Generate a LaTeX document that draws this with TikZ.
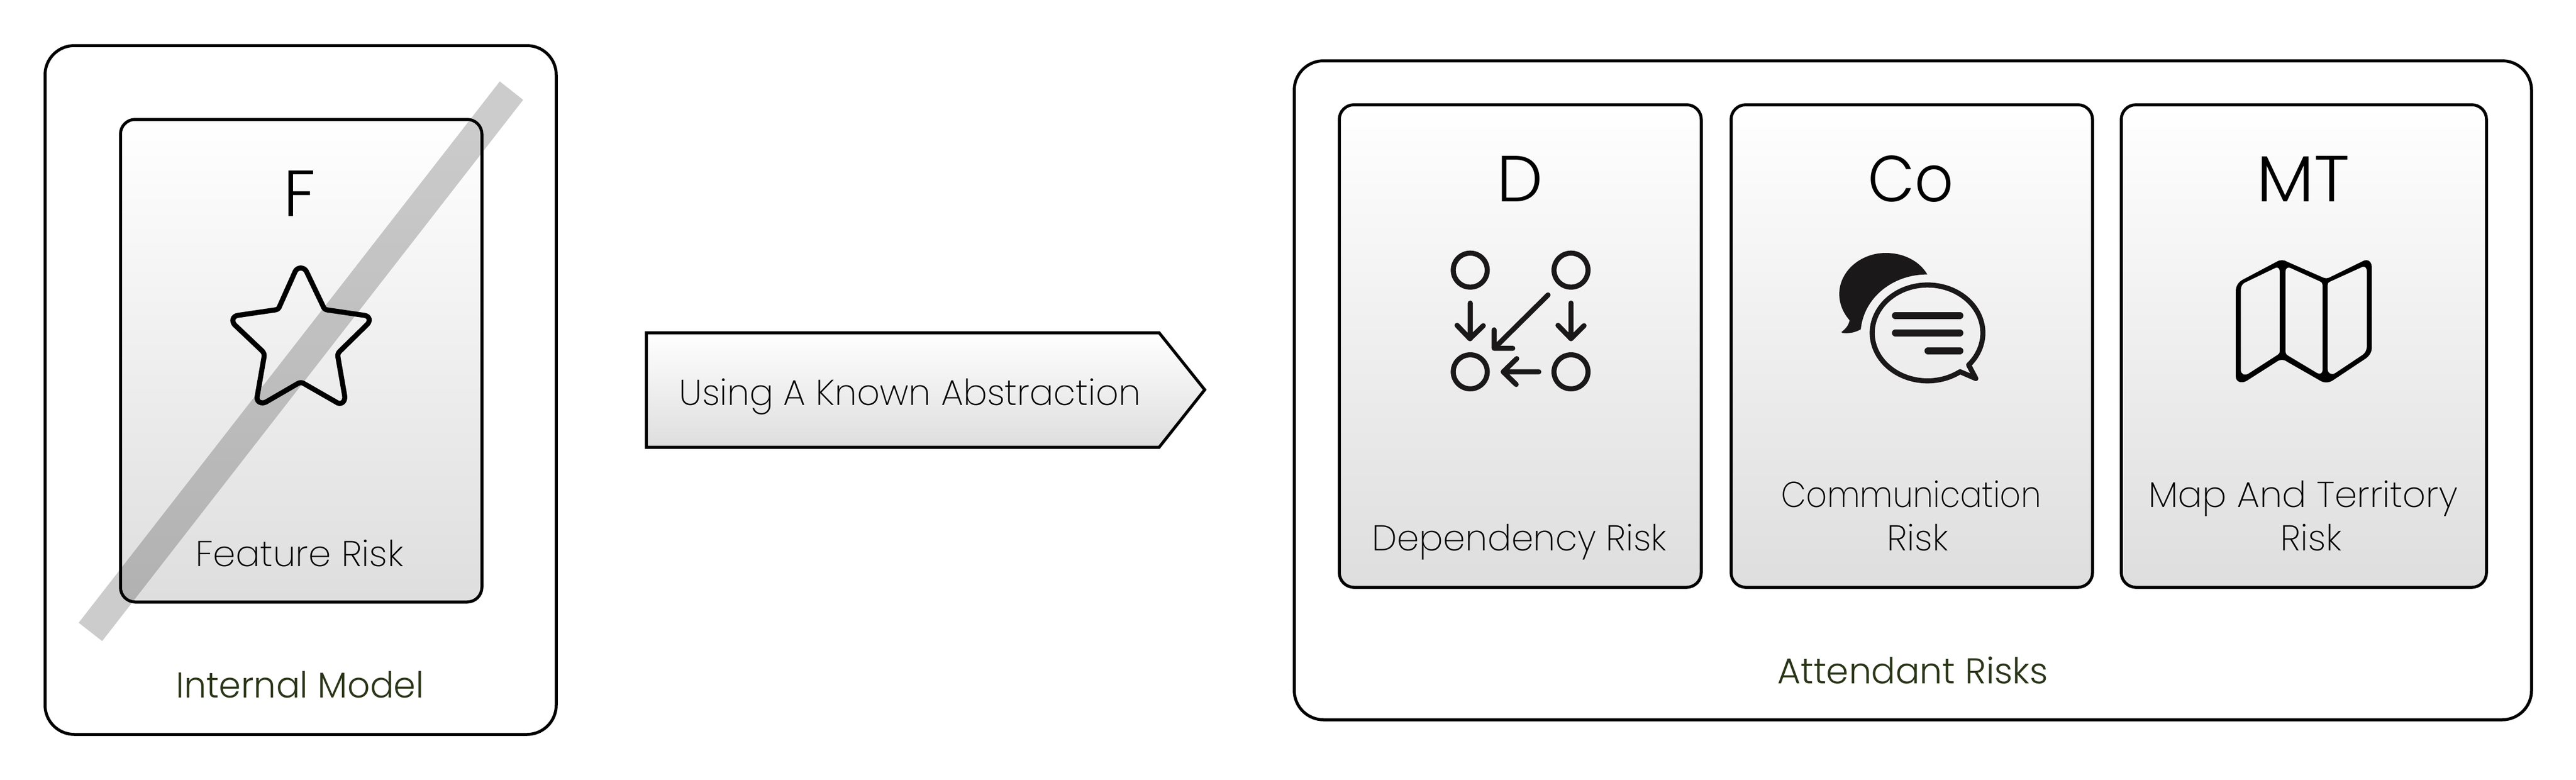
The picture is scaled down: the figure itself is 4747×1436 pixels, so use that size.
\documentclass[tikz,border=0pt]{standalone}
\usepackage{fontspec}
\usepackage{graphicx}
\setmainfont{Poppins ExtraLight}
\newfontfamily\lightface{Poppins Light}
\newcommand{\narrowed}[2]{\scalebox{#1}[1]{#2}}
\definecolor{olive}{HTML}{2A3518}
\definecolor{ink}{HTML}{1A1818}
\tikzset{
  panel/.style={draw=black,line width=2.75pt,rounded corners=27pt*0.5,top color=white,bottom color=black!13,outer sep=0pt,inner sep=0pt},
  frame/.style={draw=black,line width=2.75pt,rounded corners=27pt,fill=white,outer sep=0pt,inner sep=0pt},
  bigletter/.style={anchor=base,inner sep=0pt,font=\lightface\fontsize{60pt}{60pt}\selectfont,text=black},
  smalltext/.style={anchor=base,inner sep=0pt,font=\fontsize{33pt}{40pt}\selectfont,text=black,align=center},
  caption/.style={anchor=base,inner sep=0pt,font=\lightface\fontsize{33pt}{40pt}\selectfont,text=olive},
  iconline/.style={draw=ink,line width=4.67pt,line cap=round,line join=round},
  zoomed/.style={x=0.16667pt,y=-0.16667pt}
}
\begin{document}
\begin{tikzpicture}[x=0.5pt,y=-0.5pt]
\useasboundingbox (0,0) rectangle (4747,1436);
% left frame
\node[frame,minimum width=471pt,minimum height=634.5pt] (internal) at (554,718.5) {};
\node[panel,minimum width=333pt,minimum height=444.5pt] (feature) at (555,664.5) {};
\node[bigletter] (flabel) at (552,398) {F};
\begin{scope}[shift={(400,470)},zoomed]
\draw[draw=black,line width=4.67pt,line join=round] (432,90) .. controls (445,65) and (480,65) .. (494,90) -- (585,280) .. controls (590,295) and (597,301) .. (610,303) -- (815,333) .. controls (845,338) and (848,365) .. (830,383) -- (680,530) .. controls (670,540) and (666,548) .. (668,562) -- (705,775) .. controls (712,815) and (680,830) .. (658,812) -- (480,710) .. controls (468,703) and (458,703) .. (446,710) -- (270,812) .. controls (245,825) and (215,810) .. (222,780) -- (260,562) .. controls (262,548) and (258,540) .. (250,530) -- (97,385) .. controls (80,365) and (85,338) .. (115,333) -- (320,303) .. controls (335,301) and (342,295) .. (347,280) -- cycle;
\end{scope}
\node[smalltext] (ftext) at (552,1043) {\narrowed{1.016}{Feature Risk}};
\node[caption] (icap) at (553,1285) {\narrowed{0.985}{Internal Model}};
\fill[black,opacity=0.2] (921,150) -- (964,184) -- (188.3,1181) -- (145,1147.3) -- cycle;
% arrow
\draw[draw=black,line width=2.75pt,line join=miter,top color=white,bottom color=black!13] (1191,613) -- (2136,613) -- (2220,718) -- (2136,824) -- (1191,824) -- cycle;
\node[smalltext] (atext) at (1677,746) {\narrowed{0.994}{Using A Known Abstraction}};
% right frame
\node[frame,minimum width=1140pt,minimum height=607pt] (attendant) at (3525,719) {};
\node[panel,minimum width=333.5pt,minimum height=444.5pt] (dep) at (2801.5,637.5) {};
\node[panel,minimum width=333pt,minimum height=444.5pt] (com) at (3523,637.5) {};
\node[panel,minimum width=336.5pt,minimum height=444.5pt] (map) at (4245.5,637.5) {};
\node[bigletter] (dlabel) at (2801,371) {D};
\node[bigletter] (clabel) at (3521,371) {\narrowed{0.93}{Co}};
\node[bigletter] (mlabel) at (4244,371) {\narrowed{1.05}{MT}};
\node[smalltext] (dtext) at (2800,1014) {\narrowed{0.99}{Dependency Risk}};
\node[smalltext] (ctext1) at (3522,934) {\narrowed{0.905}{Communication}};
\node[smalltext] (ctext2) at (3534,1014) {Risk};
\node[smalltext] (mtext1) at (4244,934) {\narrowed{1.01}{Map And Territory}};
\node[smalltext] (mtext2) at (4259,1014) {Risk};
\node[caption] (acap) at (3525,1259) {Attendant Risks};
% dependency icon
\begin{scope}[shift={(2620,440)},zoomed]
\draw[iconline] (268,173) circle[radius=94];
\draw[iconline] (825,173) circle[radius=94];
\draw[iconline] (268,735) circle[radius=94];
\draw[iconline] (825,735) circle[radius=94];
\draw[iconline] (268,355) -- (268,552) (195,478) -- (266,552) -- (340,480);
\draw[iconline] (825,355) -- (825,552) (753,478) -- (825,552) -- (897,480);
\draw[iconline] (698,310) -- (400,605) (400,503) -- (400,605) -- (503,605);
\draw[iconline] (647,735) -- (450,735) (525,662) -- (450,735) -- (522,805);
\end{scope}
% chat icon
\begin{scope}[shift={(3360,440)},zoomed]
\fill[ink] (575,197) .. controls (530,120) and (440,78) .. (345,78) .. controls (205,78) and (88,180) .. (88,305) .. controls (88,360) and (110,410) .. (145,450) .. controls (140,480) and (120,500) .. (100,515) .. controls (102,520) and (103,520) .. (105,520) .. controls (140,525) and (175,518) .. (207,500) .. controls (225,320) and (390,195) .. (575,197) -- cycle;
\draw[iconline] plot[domain=54:402,samples=90] ({576+306*cos(\x)},{520+265*sin(\x)}) -- (843,772) -- cycle;
\draw[draw=ink,line width=6.33pt,line cap=round] (398,424) -- (755,424) (398,520) -- (755,520) (578,619) -- (755,619);
\end{scope}
% map icon
\begin{scope}[shift={(4090,450)},zoomed]
\fill[black,even odd rule]
 (90,260) .. controls (90,230) and (105,208) .. (130,195) -- (315,97) .. controls (335,85) and (355,85) .. (375,97) -- (575,185) .. controls (585,189) and (595,189) .. (605,185) -- (795,92) .. controls (820,80) and (842,95) .. (842,130) -- (842,570) .. controls (842,600) and (825,622) .. (800,637) -- (630,750) .. controls (605,768) and (575,768) .. (550,750) -- (375,650) .. controls (355,635) and (335,635) .. (315,650) -- (150,755) .. controls (120,772) and (90,760) .. (90,730) -- cycle
 (118,250) .. controls (118,232) and (128,218) .. (140,212) -- (310,130) .. controls (325,125) and (333,135) .. (333,150) -- (333,590) .. controls (333,602) and (328,608) .. (320,612) -- (160,715) .. controls (138,728) and (118,718) .. (118,695) -- cycle
 (365,150) .. controls (365,135) and (375,125) .. (390,130) -- (555,205) .. controls (565,210) and (570,216) .. (570,225) -- (570,695) .. controls (570,715) and (555,720) .. (540,712) -- (378,615) .. controls (370,610) and (365,604) .. (365,595) -- cycle
 (598,225) .. controls (598,215) and (602,210) .. (610,207) -- (790,125) .. controls (805,120) and (815,132) .. (815,150) -- (815,560) .. controls (815,585) and (805,602) .. (790,612) -- (640,712) .. controls (620,724) and (598,715) .. (598,690) -- cycle;
\end{scope}
\end{tikzpicture}
\end{document}
